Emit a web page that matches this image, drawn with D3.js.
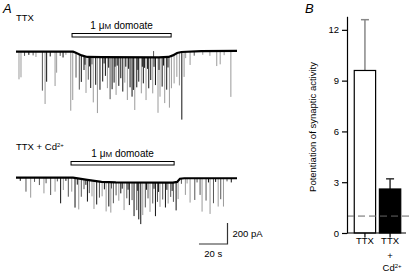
<!DOCTYPE html>
<html>
<head>
<meta charset="utf-8">
<script src="https://cdn.jsdelivr.net/npm/d3@7"></script>
<style>
    body { margin: 0; background: #ffffff; }
    svg { display: block; font-family: 'Liberation Sans', Arial, sans-serif; }
</style>
</head>
<body>
<script>
// ===== 数据 =====
// 保持电流基线 [时间 s, 电流 pA]
const ttxHolding = [[0, 0], [40, 0], [42, -10], [46, -35], [50, -50], [60, -52], [100, -54], [107, -50],
    [110, -35], [113, -12], [116, -3], [130, 5], [155, 8]];
const cdHolding = [[0, 0], [40, 0], [50, -20], [60, -40], [70, -44], [110, -46], [113, -40], [115, -10],
    [118, -5], [155, -5]];

// 突触事件 [时间 s, 幅度 pA, 扫描编号]
const ttxEvents = [
    [2.1, 263, 2], [3.5, 244, 2], [18.5, 371, 1], [20.4, 498, 2], [21.5, 286, 0], [27.4, 327, 2], [28.5, 200, 2],
    [38.4, 562, 2], [39.8, 460, 2], [42.1, 236, 1], [44.4, 336, 1], [45.8, 254, 0], [47.7, 133, 0], [49.1, 346, 2],
    [50.7, 216, 1], [52.4, 295, 0], [54.2, 432, 2], [55.9, 264, 0], [57.1, 533, 2], [58.9, 311, 0], [60.8, 232, 0],
    [62.7, 178, 0], [64.1, 295, 2], [66, 400, 1], [67.4, 305, 0], [68.8, 242, 0], [70.2, 359, 2], [72.1, 273, 0],
    [73.5, 200, 0], [74.9, 327, 0], [76.3, 242, 2], [78.1, 407, 2], [80, 286, 0], [81.4, 375, 0], [82.3, 311, 0],
    [83.3, 502, 2], [84.7, 286, 0], [86.1, 232, 0], [87.9, 343, 2], [89.3, 248, 0], [91.2, 407, 2], [93.1, 295, 0],
    [94.5, 216, 0], [95.9, 343, 2], [97.8, 264, 0], [99.6, 528, 2], [101, 375, 2], [102.5, 280, 0], [104.3, 438, 2],
    [105.7, 311, 0], [107.6, 486, 2], [109, 308, 2], [110.9, 274, 2], [112.8, 226, 2], [114.6, 314, 2],
    [116.3, 644, 0], [117.9, 238, 2], [122.1, 127, 2], [140.8, 143, 2], [143.2, 127, 2], [150.7, 438, 2],
    // 小事件
    [6, 40, 1], [9, 30, 0], [12, 35, 1], [14, 50, 2], [24, 45, 0], [31, 40, 1], [33, 55, 0], [35, 30, 2],
    [48.4, 80, 0], [51.5, 90, 0], [53.3, 70, 1], [61.8, 60, 0], [65, 100, 0], [69.5, 90, 0], [71, 80, 0],
    [77, 90, 0], [79, 110, 0], [85.5, 120, 0], [88.6, 90, 0], [90.2, 100, 0], [92.3, 110, 0], [96.8, 90, 0],
    [100.3, 120, 0], [103.5, 80, 0], [106.6, 100, 0], [119, 60, 2], [125, 40, 1], [131, 35, 2], [136, 45, 2],
    [146, 40, 2], [96.5, -60, 1]
];
const cdEvents = [
    [7.0, 133, 1], [10.3, 190, 2], [16.4, 70, 1], [19.6, 149, 2], [21.1, 53, 1], [24.3, 165, 1], [27.4, 133, 2],
    [31.3, 244, 0], [33.2, 117, 2], [36.7, 181, 1], [39.1, 133, 2], [41.4, 282, 0], [44, 294, 2], [45.8, 170, 1],
    [47.7, 94, 1], [50.1, 207, 0], [51.4, 124, 1], [53.3, 151, 2], [54.7, 268, 2], [56.6, 222, 0], [58.5, 153, 1],
    [60.4, 137, 2], [63.2, 280, 2], [65.1, 232, 0], [66.5, 290, 2], [68.3, 200, 1], [70.2, 124, 1], [72.1, 175, 2],
    [73.5, 105, 0], [75.8, 264, 2], [77.7, 152, 1], [79.5, 216, 0], [81.4, 169, 1], [82.8, 321, 0], [84.7, 264, 1],
    [86.1, 352, 0], [87.5, 397, 0], [88.9, 311, 2], [90.7, 238, 1], [92.6, 152, 1], [94, 280, 2], [95.9, 200, 1],
    [97.8, 321, 0], [99.2, 185, 1], [101, 232, 2], [102.9, 162, 1], [104.8, 238, 0], [106.7, 200, 2],
    [108.5, 137, 1], [110.4, 185, 1], [112.3, 270, 0], [113.7, 174, 2], [118.8, 159, 2], [122.1, 232, 2],
    [125.4, 207, 1], [129.1, 159, 1], [130.5, 318, 2], [133.3, 213, 1], [136.1, 340, 2], [138.5, 238, 1],
    [141.8, 270, 2], [143.6, 200, 1], [145.5, 270, 2],
    // 小事件
    [3, 30, 0], [13, 40, 1], [29, 35, 1], [35, 30, 0], [43, 60, 0], [49, 50, 0], [62, 70, 0], [67, 60, 1],
    [74.5, 60, 0], [78.6, 70, 0], [85.4, 80, 0], [91.5, 70, 0], [96.8, 60, 0], [100, 90, 0], [105.8, 70, 0],
    [109.5, 80, 0], [116, 50, 1], [120, 50, 2], [127, 40, 1], [135, 40, 0], [140, 35, 0], [148, 30, 1], [151, 40, 0]
];

// 给药时间段 (s)
const ttxDomoate = [39.3, 108.8];
const cdDomoate = [38.6, 110.9];

// 比例尺标尺
const scaleTime = 20;     // s
const scaleCurrent = 200; // pA

// 柱状图数据
const conditions = ['TTX', 'TTX + Cd'];
const potentiation = [9.6, 2.6];
const potentiationErr = [3.0, 0.6];
const controlLevel = 1;
const yTicks = [0, 3, 6, 9, 12];

// ===== 画布 =====
const svg = d3.select('body')
    .append('svg')
    .attr('width', 415)
    .attr('height', 276);

const sweepColor = d3.scaleOrdinal().domain([0, 1, 2]).range(['#111111', '#555555', '#9a9a9a']);

// 时间比例尺（两条记录共用）
const xTime = d3.scaleLinear().domain([0, 155]).range([16, 237]);

/**
 * 线性读取基线电流
 */
const holdingAt = (points, t) => {
    const i = d3.bisector(d => d[0]).right(points, t);
    if (i <= 0) return points[0][1];
    if (i >= points.length) return points[points.length - 1][1];
    const [t0, v0] = points[i - 1], [t1, v1] = points[i];
    return v0 + (v1 - v0) * (t - t0) / (t1 - t0);
};

/**
 * 绘制一条电流记录
 */
const renderTrace = (p) => {
    const g = svg.append('g');
    const yCur = d3.scaleLinear().domain([0, -600]).range([p.baseY, p.baseY + 63]);

    // 事件
    g.append('g')
        .selectAll('line')
        .data(p.events.slice().sort((a, b) => b[2] - a[2]))
        .enter()
        .append('line')
        .attr('x1', d => xTime(d[0]))
        .attr('x2', d => xTime(d[0]))
        .attr('y1', d => yCur(holdingAt(p.holding, d[0])))
        .attr('y2', d => yCur(holdingAt(p.holding, d[0]) - d[1]))
        .attr('stroke', d => sweepColor(d[2]))
        .attr('stroke-width', 1);

    // 基线
    g.append('path')
        .datum(p.holding)
        .attr('d', d3.line().x(d => xTime(d[0])).y(d => yCur(d[1])))
        .attr('fill', 'none')
        .attr('stroke', '#000')
        .attr('stroke-width', 2.2);

    // 给药条
    g.append('rect')
        .attr('x', xTime(p.domoate[0]))
        .attr('y', p.barY)
        .attr('width', xTime(p.domoate[1]) - xTime(p.domoate[0]))
        .attr('height', 3.5)
        .attr('fill', '#fff')
        .attr('stroke', '#000')
        .attr('stroke-width', 1);

    const lab = g.append('text')
        .attr('x', (xTime(p.domoate[0]) + xTime(p.domoate[1])) / 2)
        .attr('y', p.barY - 5)
        .attr('text-anchor', 'middle')
        .style('font-size', '10px');
    lab.append('tspan').text('1 μ');
    lab.append('tspan').style('font-size', '8px').text('M');
    lab.append('tspan').text(' domoate');

    return yCur;
};

const yTtx = renderTrace({holding: ttxHolding, events: ttxEvents, domoate: ttxDomoate, baseY: 51.7, barY: 33.5});
const yCd = renderTrace({holding: cdHolding, events: cdEvents, domoate: cdDomoate, baseY: 177.7, barY: 161.5});

// 记录标签
svg.append('text').attr('x', 3).attr('y', 12.5)
    .style('font-size', '13px').style('font-style', 'italic').text('A');
svg.append('text').attr('x', 16).attr('y', 21).style('font-size', '9.5px').text('TTX');
const cdLab = svg.append('text').attr('x', 16).attr('y', 150).style('font-size', '9.5px');
cdLab.append('tspan').text('TTX + Cd');
cdLab.append('tspan').attr('dy', -3.5).style('font-size', '6px').text('2+');

// 比例尺
const sbX = 227.5, sbY = 244;
const sbW = xTime(scaleTime) - xTime(0);
const sbH = yCd(-scaleCurrent) - yCd(0);
svg.append('path')
    .attr('d', `M ${sbX - sbW} ${sbY} L ${sbX} ${sbY} L ${sbX} ${sbY - sbH}`)
    .attr('fill', 'none')
    .attr('stroke', '#333')
    .attr('stroke-width', 1.2);
svg.append('text').attr('x', sbX + 5).attr('y', 237).style('font-size', '9.5px').text(`${scaleCurrent} pA`);
svg.append('text').attr('x', sbX - sbW / 2).attr('y', 257).attr('text-anchor', 'middle')
    .style('font-size', '9.5px').text(`${scaleTime} s`);

// ===== 柱状图 B =====
const axisX = 347;
const yBar = d3.scaleLinear().domain([0, 12.8]).range([233, 16.3]);
const xBar = d3.scaleBand().domain(conditions).range([353, 402]).paddingInner(0.15).paddingOuter(0.05);

const bg = svg.append('g');

// 误差线
bg.selectAll('line.err')
    .data(conditions)
    .enter()
    .append('line')
    .attr('class', 'err')
    .attr('x1', d => xBar(d) + xBar.bandwidth() / 2)
    .attr('x2', d => xBar(d) + xBar.bandwidth() / 2)
    .attr('y1', (d, i) => yBar(potentiation[i]))
    .attr('y2', (d, i) => yBar(potentiation[i] + potentiationErr[i]))
    .attr('stroke', (d, i) => i === 0 ? '#888' : '#333')
    .attr('stroke-width', 1.5);
bg.selectAll('line.cap')
    .data(conditions)
    .enter()
    .append('line')
    .attr('class', 'cap')
    .attr('x1', d => xBar(d) + xBar.bandwidth() / 2 - 4)
    .attr('x2', d => xBar(d) + xBar.bandwidth() / 2 + 4)
    .attr('y1', (d, i) => yBar(potentiation[i] + potentiationErr[i]))
    .attr('y2', (d, i) => yBar(potentiation[i] + potentiationErr[i]))
    .attr('stroke', (d, i) => i === 0 ? '#888' : '#333')
    .attr('stroke-width', 1.5);

// 柱子
bg.selectAll('rect')
    .data(conditions)
    .enter()
    .append('rect')
    .attr('x', d => xBar(d))
    .attr('width', xBar.bandwidth())
    .attr('y', (d, i) => yBar(potentiation[i]))
    .attr('height', (d, i) => yBar(0) - yBar(potentiation[i]))
    .attr('fill', (d, i) => i === 0 ? '#fff' : '#000')
    .attr('stroke', '#000')
    .attr('stroke-width', 1.2);

// 对照水平虚线（画在柱子之上）
bg.append('line')
    .attr('x1', axisX).attr('x2', 413)
    .attr('y1', yBar(controlLevel)).attr('y2', yBar(controlLevel))
    .attr('stroke', '#666')
    .attr('stroke-width', 1)
    .attr('stroke-dasharray', '7,4');

// y 轴
const yAxis = bg.append('g')
    .attr('transform', `translate(${axisX},0)`)
    .call(d3.axisLeft(yBar).tickValues(yTicks).tickSize(5).tickPadding(3).tickSizeOuter(0));
yAxis.select('.domain').attr('stroke', '#000').attr('stroke-width', 1.2);
yAxis.selectAll('.tick line').attr('stroke-width', 1.2);
yAxis.selectAll('.tick text').style('font-size', '9.5px').style('font-family', 'Liberation Sans, Arial, sans-serif');

// x 轴
bg.append('line')
    .attr('x1', axisX).attr('x2', 406)
    .attr('y1', yBar(0)).attr('y2', yBar(0))
    .attr('stroke', '#000').attr('stroke-width', 1.2);
bg.selectAll('line.xtick')
    .data(conditions)
    .enter()
    .append('line')
    .attr('class', 'xtick')
    .attr('x1', d => xBar(d) + xBar.bandwidth() / 2)
    .attr('x2', d => xBar(d) + xBar.bandwidth() / 2)
    .attr('y1', yBar(0)).attr('y2', yBar(0) + 4.5)
    .attr('stroke', '#000').attr('stroke-width', 1.2);

// x 轴标签
const cx0 = xBar(conditions[0]) + xBar.bandwidth() / 2;
const cx1 = xBar(conditions[1]) + xBar.bandwidth() / 2;
bg.append('text').attr('x', cx0).attr('y', 244).attr('text-anchor', 'middle').style('font-size', '9.5px').text('TTX');
bg.append('text').attr('x', cx1).attr('y', 244).attr('text-anchor', 'middle').style('font-size', '9.5px').text('TTX');
bg.append('text').attr('x', cx1).attr('y', 259).attr('text-anchor', 'middle').style('font-size', '9.5px').text('+');
const cdTick = bg.append('text').attr('x', cx1 + 2).attr('y', 271).attr('text-anchor', 'middle').style('font-size', '9.5px');
cdTick.append('tspan').text('Cd');
cdTick.append('tspan').attr('dy', -3.5).style('font-size', '6px').text('2+');

// y 轴标题
bg.append('text')
    .attr('transform', 'translate(316,127) rotate(-90)')
    .attr('text-anchor', 'middle')
    .style('font-size', '9.5px')
    .text('Potentiation of synaptic activity');

svg.append('text').attr('x', 305).attr('y', 12.5)
    .style('font-size', '13px').style('font-style', 'italic').text('B');
</script>
</body>
</html>
